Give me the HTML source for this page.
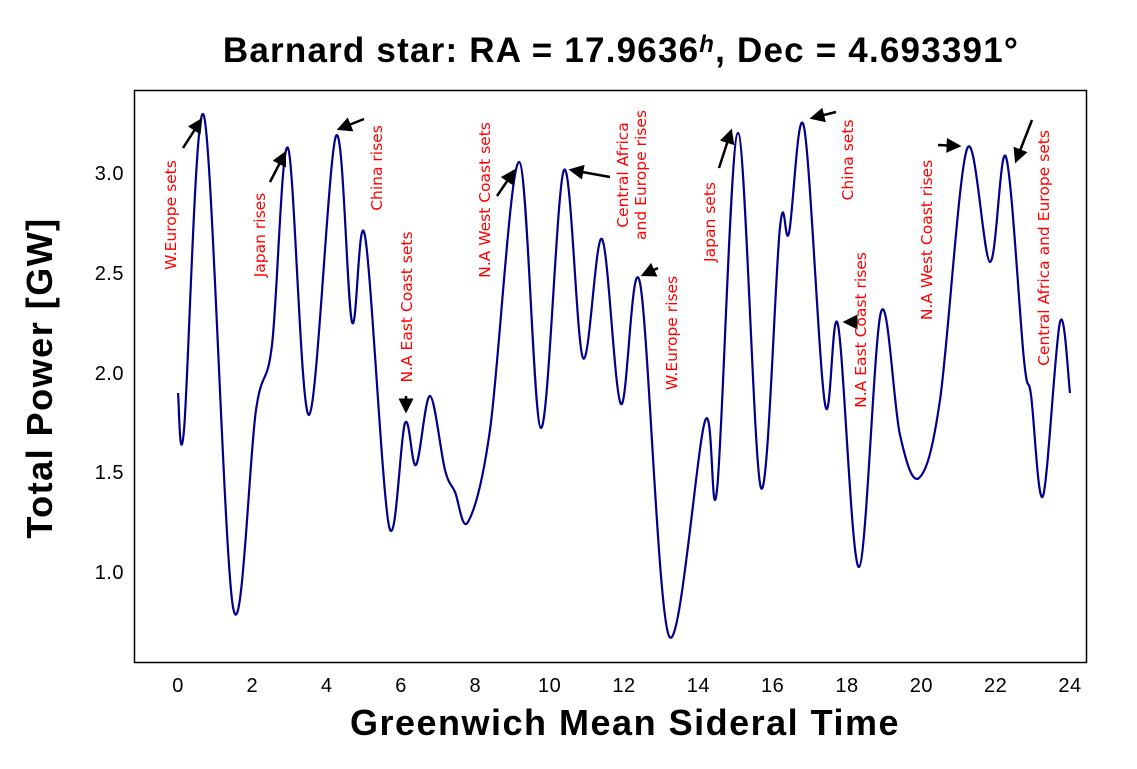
<!DOCTYPE html>
<html><head><meta charset="utf-8"><style>
html,body{margin:0;padding:0;background:#fff;}
svg{display:block;}
.t{font-family:"Liberation Sans",sans-serif;}
.red{fill:#ff0000;font-size:15.5px;font-family:"DejaVu Sans","Liberation Sans",sans-serif;}
</style></head><body>
<svg id="s" width="1137" height="769" viewBox="0 0 1137 769" xmlns="http://www.w3.org/2000/svg">
<defs><marker id="ah" markerWidth="6" markerHeight="6" refX="5" refY="3" orient="auto" markerUnits="strokeWidth"><path d="M0,0 L6,3 L0,6 z" fill="#000"/></marker></defs>
<text x="621" y="62" text-anchor="middle" class="t" font-size="35" font-weight="bold" letter-spacing="1.2" fill="#000">Barnard star: RA = 17.9636<tspan font-style="italic" font-size="24" dy="-10">h</tspan><tspan dy="10">, Dec = 4.693391°</tspan></text>
<rect x="134.5" y="90.5" width="952" height="572" fill="none" stroke="#000" stroke-width="1.5"/>
<g class="t" font-size="20" fill="#000" text-anchor="middle" id="xt" letter-spacing="0.5"></g>
<g class="t" font-size="20" fill="#000" text-anchor="end" letter-spacing="0.5">
<text x="124" y="180">3.0</text><text x="124" y="280">2.5</text><text x="124" y="380">2.0</text><text x="124" y="479">1.5</text><text x="124" y="579">1.0</text>
</g>
<text x="625" y="735" text-anchor="middle" class="t" font-size="36" font-weight="bold" letter-spacing="1.5" fill="#000">Greenwich Mean Sideral Time</text>
<text transform="translate(52,378) rotate(-90)" text-anchor="middle" class="t" font-size="36" font-weight="bold" letter-spacing="1.5" fill="#000">Total Power [GW]</text>
<path id="curve" fill="none" stroke="#00008b" stroke-width="2.2"/>
<g stroke="#000" stroke-width="2.5" marker-end="url(#ah)">
<line x1="183" y1="148" x2="201" y2="120"/>
<line x1="270" y1="182" x2="285" y2="153"/>
<line x1="364" y1="119" x2="339" y2="129"/>
<line x1="406" y1="396" x2="406" y2="411"/>
<line x1="497" y1="196" x2="514" y2="171"/>
<line x1="610" y1="177" x2="571" y2="170"/>
<line x1="658" y1="268" x2="643" y2="275"/>
<line x1="719" y1="168" x2="731" y2="131"/>
<line x1="836" y1="112" x2="812" y2="118"/>
<line x1="856" y1="322" x2="845" y2="322"/>
<line x1="938" y1="145" x2="959" y2="146"/>
<line x1="1032" y1="120" x2="1016" y2="161"/>
</g>
<g class="red">
<text transform="translate(176,215) rotate(-90)" text-anchor="middle">W.Europe sets</text>
<text transform="translate(265,235) rotate(-90)" text-anchor="middle">Japan rises</text>
<text transform="translate(382,168) rotate(-90)" text-anchor="middle">China rises</text>
<text transform="translate(412,307) rotate(-90)" text-anchor="middle">N.A East Coast sets</text>
<text transform="translate(490,200) rotate(-90)" text-anchor="middle">N.A West Coast sets</text>
<text transform="translate(628,175) rotate(-90)" text-anchor="middle">Central Africa</text>
<text transform="translate(646,175) rotate(-90)" text-anchor="middle">and Europe rises</text>
<text transform="translate(677,333) rotate(-90)" text-anchor="middle">W.Europe rises</text>
<text transform="translate(715,222) rotate(-90)" text-anchor="middle">Japan sets</text>
<text transform="translate(853,160) rotate(-90)" text-anchor="middle">China sets</text>
<text transform="translate(866,330) rotate(-90)" text-anchor="middle">N.A East Coast rises</text>
<text transform="translate(932,240) rotate(-90)" text-anchor="middle">N.A West Coast rises</text>
<text transform="translate(1049,248) rotate(-90)" text-anchor="middle">Central Africa and Europe sets</text>
</g>
</svg>
<script>
var xt=document.getElementById('xt'),h='';
for(var i=0;i<=24;i+=2){h+='<text x="'+(178+i*892/24)+'" y="692">'+i+'</text>';}
xt.innerHTML=h;
var p=[[178,393],[184,430],[204,116],[233,607],[256,410],[272,345],[288,148],[309,415],[336,136],[352,322],[365,236],[389,526],[405,423],[416,465],[430,396],[445,470],[455,492],[468,522],[490,430],[519,162],[541,428],[564,170],[583,358],[602,239],[621,404],[640,283],[669,636],[705,421],[717,490],[738,133],[761,488],[780,227],[789,233],[804,127],[825,404],[838,325],[859,567],[881,312],[900,435],[919,478],[940,400],[967,149],[990,262],[1006,157],[1024,360],[1031,395],[1043,496],[1060,322],[1070,393]];
function f(v){return v.toFixed(1);}
var d='M'+p[0][0]+','+p[0][1];
for(var i=0;i<p.length-1;i++){var p0=p[i-1]||p[i],p1=p[i],p2=p[i+1],p3=p[i+2]||p2,k=6;
d+=' C'+f(p1[0]+(p2[0]-p0[0])/k)+','+f(p1[1]+(p2[1]-p0[1])/k)+' '+f(p2[0]-(p3[0]-p1[0])/k)+','+f(p2[1]-(p3[1]-p1[1])/k)+' '+p2[0]+','+p2[1];}
document.getElementById('curve').setAttribute('d',d);
</script>
</body></html>
